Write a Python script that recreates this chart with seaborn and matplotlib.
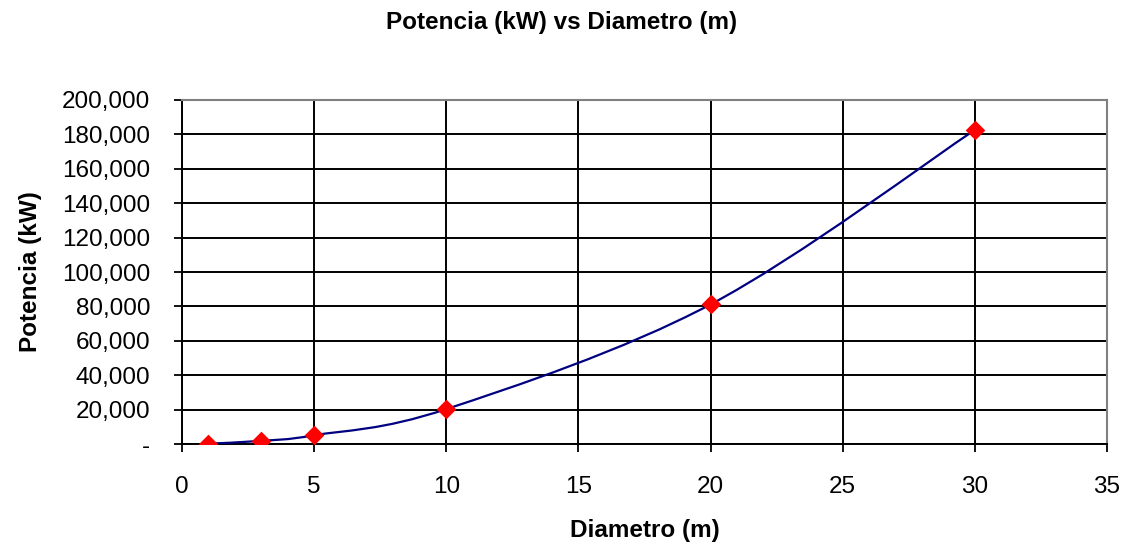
import matplotlib
matplotlib.use("Agg")
import matplotlib.pyplot as plt
from matplotlib.path import Path
from matplotlib.patches import PathPatch
from matplotlib.ticker import FuncFormatter, MultipleLocator
import numpy as np
import pandas as pd
import seaborn as sns

# Potencia en funcion del diametro del rotor
diametro = [1, 3, 5, 10, 20, 30]
potencia = [203, 1826, 5073, 20290, 81160, 182610]

title = "Potencia (kW) vs Diametro (m)"
xlabel = "Diametro (m)"
ylabel = "Potencia (kW)"

sns.set_style("white")
plt.rcParams["font.family"] = ["Liberation Sans", "DejaVu Sans"]
plt.rcParams["text.color"] = "black"
plt.rcParams["axes.labelcolor"] = "black"

df = pd.DataFrame({"Diametro": diametro, "Potencia": potencia})

fig = plt.figure(figsize=(11.26, 5.46), dpi=100)
ax = fig.add_axes([182 / 1126, 1 - 444 / 546, (1107 - 182) / 1126, (444 - 100) / 546])

# Smoothed connecting curve (Catmull-Rom style cubic Bezier through the data)
x = np.asarray(diametro, dtype=float)
y = np.asarray(potencia, dtype=float)
verts = [(x[0], y[0])]
codes = [Path.MOVETO]
n = len(x)
for i in range(n - 1):
    p0 = (x[max(i - 1, 0)], y[max(i - 1, 0)])
    p1 = (x[i], y[i])
    p2 = (x[i + 1], y[i + 1])
    p3 = (x[min(i + 2, n - 1)], y[min(i + 2, n - 1)])
    c1 = (p1[0] + (p2[0] - p0[0]) / 6, p1[1] + (p2[1] - p0[1]) / 6)
    c2 = (p2[0] - (p3[0] - p1[0]) / 6, p2[1] - (p3[1] - p1[1]) / 6)
    verts += [c1, c2, p2]
    codes += [Path.CURVE4] * 3
ax.add_patch(PathPatch(Path(verts, codes), facecolor="none",
                       edgecolor="#000080", lw=1.6, zorder=3))

sns.scatterplot(data=df, x="Diametro", y="Potencia", ax=ax, marker="D",
                s=100, color="#ff0000", edgecolor="#ff0000", linewidth=0,
                zorder=4, legend=False)

ax.set_xlim(0, 35)
ax.set_ylim(0, 200000)
ax.xaxis.set_major_locator(MultipleLocator(5))
ax.yaxis.set_major_locator(MultipleLocator(20000))
ax.yaxis.set_major_formatter(FuncFormatter(
    lambda v, p: "-" if v == 0 else f"{v:,.0f}"))

ax.grid(True, color="black", lw=1.4)
ax.set_axisbelow(True)
for side in ("top", "right"):
    ax.spines[side].set_color("#808080")
    ax.spines[side].set_linewidth(1.5)
for side in ("left", "bottom"):
    ax.spines[side].set_color("black")
    ax.spines[side].set_linewidth(1.4)

ax.tick_params(axis="both", direction="out", length=6, width=1.3,
               color="black", labelsize=17.5, labelcolor="black",
               left=True, bottom=True)
ax.tick_params(axis="x", pad=17)
ax.tick_params(axis="y", pad=17)

ax.set_xlabel(xlabel, fontsize=17.5, fontweight="bold", labelpad=15,
              color="black")
ax.set_ylabel(ylabel, fontsize=17.5, fontweight="bold", labelpad=14,
              color="black")

fig.text(561.5 / 1126, 1 - 22 / 546, title, ha="center", va="center",
         fontsize=17.5, fontweight="bold", color="black")

fig.savefig("out.png", dpi=100, facecolor="white")
